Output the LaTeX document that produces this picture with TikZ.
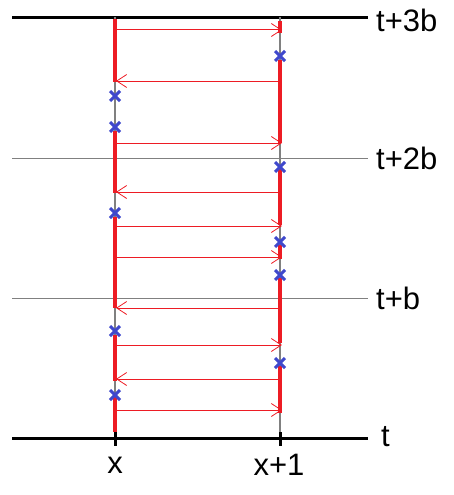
\documentclass[tikz,border=0pt]{standalone}
\usepackage{fontspec}
\setmainfont{Liberation Sans}
\usetikzlibrary{arrows.meta}
\definecolor{myred}{RGB}{237,28,36}
\definecolor{myblue}{RGB}{63,72,204}
\begin{document}
\begin{tikzpicture}[x=1pt,y=-1pt,
  axisline/.style={black,line width=3pt},
  gridline/.style={gray,line width=1pt},
  proc/.style={gray,line width=1.2pt},
  busy/.style={myred,line width=4pt},
  msg/.style={myred,line width=1pt,-{Straight Barb[length=10pt,width=13pt,line width=0.8pt]}},
  lbl/.style={font=\fontsize{31}{36}\selectfont,inner sep=0pt}]
\useasboundingbox (0,0) rectangle (454,495);
% horizontal lines
\draw[axisline] (12,18) -- (368,18);
\draw[gridline] (12,158) -- (368,158);
\draw[gridline] (12,298) -- (368,298);
\draw[axisline] (12,438) -- (368,438);
% process lines
\draw[proc] (115,17) -- (115,438);
\draw[proc] (280,17) -- (280,438);
% ticks
\draw[black,line width=3pt] (115,432) -- (115,446);
\draw[black,line width=3pt] (280,432) -- (280,446);
% labels
\node[lbl,anchor=west] (l3) at (376,20) {t+3b};
\node[lbl,anchor=west] (l2) at (376,158) {t+2b};
\node[lbl,anchor=west] (l1) at (376,298) {t+b};
\node[lbl,anchor=west] (l0) at (381,437) {t};
\node[lbl,anchor=base] (lx) at (115,473) {x};
\node[lbl,anchor=base] (lx1) at (279,475) {x+1};
% busy segments left
\foreach \a/\b in {19/82,131/193,217/308,335/381,397/432}
  \draw[busy] (115,\a) -- (115,\b);
% busy segments right
\foreach \a/\b in {21/33,60/143,166/225,245/259,278/343,366/413}
  \draw[busy] (280,\a) -- (280,\b);
% messages left to right
\foreach \y in {30,143,226,257,345,410}
  \draw[msg] (117,\y) -- (282,\y);
% messages right to left
\foreach \y in {81,192,308,379}
  \draw[msg] (279,\y) -- (116,\y);
% crosses
\foreach \x/\y in {115/96,115/127,115/213,115/331,115/395,280/56,280/167,280/242,280/275,280/363}
  \draw[myblue,line width=3pt] (\x-5,\y-5) -- (\x+5,\y+5) (\x-5,\y+5) -- (\x+5,\y-5);
\end{tikzpicture}
\end{document}
